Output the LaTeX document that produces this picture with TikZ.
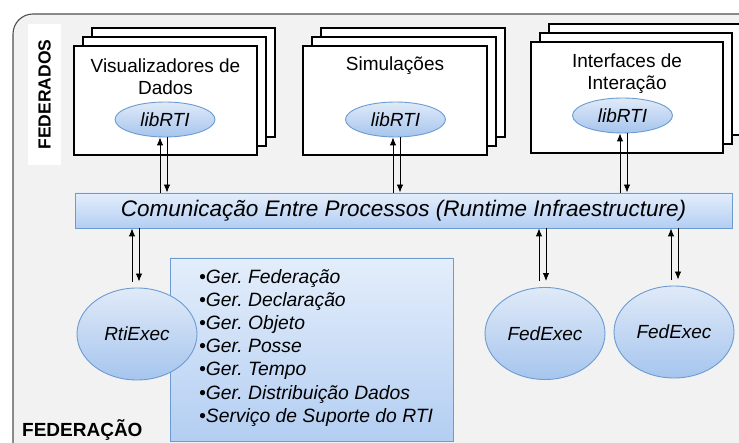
\documentclass[tikz,border=0pt]{standalone}
\usepackage{fontspec}
\setmainfont{Liberation Sans}
\usetikzlibrary{shapes.geometric,arrows.meta}
\frenchspacing
\definecolor{bgray}{HTML}{F2F2F2}
\definecolor{frame}{HTML}{505050}
\definecolor{eltop}{HTML}{E0EAF8}
\definecolor{elbot}{HTML}{A6C5EE}
\definecolor{blueborder}{HTML}{6C9BD2}
\definecolor{bandtop}{HTML}{E4EEFB}
\definecolor{bandbot}{HTML}{B3CEF2}
\tikzset{
  fedbox/.style={draw=black, line width=2.6pt, fill=white, inner sep=0pt},
  lib/.style={ellipse, draw=blueborder, line width=0.9pt, top color=eltop, bottom color=elbot,
    minimum width=100pt, minimum height=35pt, inner sep=0pt, font=\itshape\fontsize{19}{19}\selectfont},
  exec/.style={ellipse, draw=blueborder, line width=0.9pt, top color=eltop, bottom color=elbot,
    minimum width=120pt, minimum height=92pt, inner sep=0pt, font=\itshape\fontsize{19}{19}\selectfont},
  bluebox/.style={draw=blueborder, line width=0.9pt, top color=bandtop, bottom color=bandbot, inner sep=0pt},
  lbl/.style={font=\fontsize{19}{22}\selectfont, align=center, inner sep=0pt},
  arr/.style={line width=0.9pt, -{Latex[length=8pt,width=6.5pt]}}
}
\begin{document}
\begin{tikzpicture}[x=1pt,y=-1pt]
\useasboundingbox (0,0) rectangle (739,443);
\fill[white] (0,0) rectangle (739,443);
% outer federation frame
\draw[frame, fill=bgray, line width=1.1pt, rounded corners=20pt] (13,14) rectangle (765,468);

% FEDERADOS label
\node[fill=white, minimum width=33pt, minimum height=141pt, inner sep=0pt] (fedlbl) at (44.5,94.5) {};
\node[rotate=90, inner sep=0pt, font=\bfseries\fontsize{17.5}{17.5}\selectfont] (fedtxt) at (fedlbl.center) {FEDERADOS};

% Visualizadores stack
\node[fedbox, minimum width=183pt, minimum height=109pt] (vis3) at (183.5,82.5) {};
\node[fedbox, minimum width=183pt, minimum height=109pt] (vis2) at (174.5,91.5) {};
\node[fedbox, minimum width=183pt, minimum height=109pt] (vis) at (165.5,100.5) {};
\node[lbl] (vistxt) at (165.5,77) {Visualizadores de\\Dados};
\node[lib] (lib1) at (165,119.5) {libRTI};

% Simulacoes stack
\node[fedbox, minimum width=184pt, minimum height=109pt] (sim3) at (413,82.5) {};
\node[fedbox, minimum width=184pt, minimum height=109pt] (sim2) at (404,91.5) {};
\node[fedbox, minimum width=184pt, minimum height=109pt] (sim) at (395,100.5) {};
\node[lbl] (simtxt) at (395,66) {Simulações};
\node[lib] (lib2) at (395.5,119.5) {libRTI};

% Interfaces stack
\node[fedbox, minimum width=192pt, minimum height=111pt] (int3) at (645,79.5) {};
\node[fedbox, minimum width=192pt, minimum height=111pt] (int2) at (636,88.5) {};
\node[fedbox, minimum width=192pt, minimum height=111pt] (int) at (627,97.5) {};
\node[lbl] (inttxt) at (627,73.5) {Interfaces de\\Interação};
\node[lib] (lib3) at (622.5,115.5) {libRTI};

% RTI band
\node[bluebox, minimum width=657pt, minimum height=35pt, font=\itshape\fontsize{22.5}{22.5}\selectfont] (band) at (403.5,210.5) {Comunicação Entre Processos (Runtime Infraestructure)};

% service list box
\node[bluebox, minimum width=283pt, minimum height=183pt] (list) at (311.5,349.5) {};
\node[anchor=north west, inner sep=0pt, align=left, font=\itshape\fontsize{19.3}{23.2}\selectfont] (listtxt) at (199,269) {%
•Ger. Federação\\
•Ger. Declaração\\
•Ger. Objeto\\
•Ger. Posse\\
•Ger. Tempo\\
•Ger. Distribuição Dados\\
•Serviço de Suporte do RTI};

% executives
\node[exec] (rti) at (137,334) {RtiExec};
\node[exec] (fed1) at (545,333.5) {FedExec};
\node[exec] (fed2) at (674,332) {FedExec};

% FEDERACAO label
\node[anchor=west, inner sep=0pt, font=\bfseries\fontsize{19}{19}\selectfont] (fedn) at (22,430) {FEDERAÇÃO};

% arrows federates <-> band
\draw[arr] ([xshift=-5pt]lib1.south |- band.north) -- ([xshift=-5pt]lib1.south);
\draw[arr] ([xshift=2pt]lib1.south) -- ([xshift=2pt]lib1.south |- band.north);
\draw[arr] ([xshift=-2.5pt]lib2.south |- band.north) -- ([xshift=-2.5pt]lib2.south);
\draw[arr] ([xshift=4.5pt]lib2.south) -- ([xshift=4.5pt]lib2.south |- band.north);
\draw[arr] ([xshift=-2.5pt]lib3.south |- band.north) -- ([xshift=-2.5pt]lib3.south);
\draw[arr] ([xshift=4.5pt]lib3.south) -- ([xshift=4.5pt]lib3.south |- band.north);

% arrows band <-> executives
\draw[arr, shorten <=6pt] ([xshift=-5pt]rti.north) -- ([xshift=-5pt]rti.north |- band.south);
\draw[arr, shorten >=6pt] ([xshift=2pt]rti.north |- band.south) -- ([xshift=2pt]rti.north);
\draw[arr, shorten <=6pt] ([xshift=-6pt]fed1.north) -- ([xshift=-6pt]fed1.north |- band.south);
\draw[arr, shorten >=6pt] ([xshift=1pt]fed1.north |- band.south) -- ([xshift=1pt]fed1.north);
\draw[arr, shorten <=6pt] ([xshift=-3pt]fed2.north) -- ([xshift=-3pt]fed2.north |- band.south);
\draw[arr, shorten >=6pt] ([xshift=4pt]fed2.north |- band.south) -- ([xshift=4pt]fed2.north);
\end{tikzpicture}
\end{document}
